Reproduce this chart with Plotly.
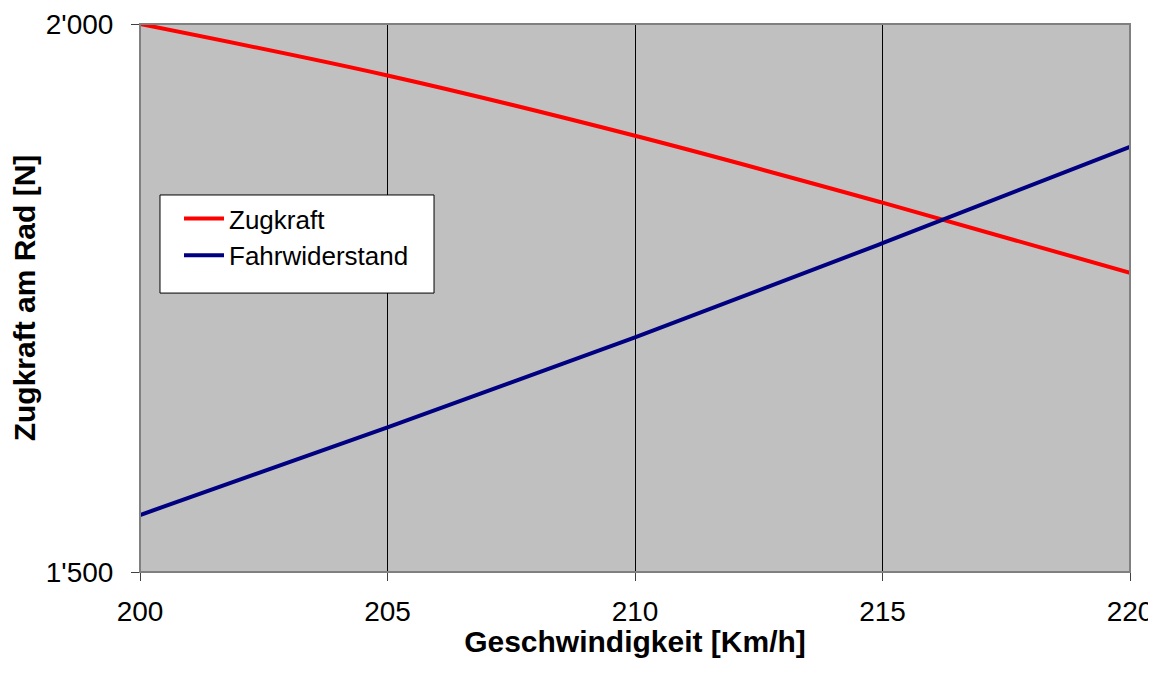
import plotly.graph_objects as go

speed = [200, 205, 210, 215, 220]
zugkraft = [2000, 1953, 1898, 1837, 1773]
fahrwiderstand = [1552, 1632, 1714, 1800, 1888]

y_tickvals = [1500, 2000]
y_ticktext = ["1'500", "2'000"]
x_tickvals = [200, 205, 210, 215, 220]

fig = go.Figure()
fig.add_trace(go.Scatter(x=speed, y=zugkraft, mode="lines", name="Zugkraft",
                         legendgroup="a",
                         line=dict(color="#FF0000", width=4, shape="spline")))
fig.add_trace(go.Scatter(x=speed, y=fahrwiderstand, mode="lines", name="Fahrwiderstand",
                         legendgroup="b",
                         line=dict(color="#000080", width=4, shape="spline")))

fig.update_layout(
    width=1148, height=650,
    margin=dict(l=132, r=26, t=16, b=86, autoexpand=False),
    paper_bgcolor="white",
    plot_bgcolor="#C0C0C0",
    font=dict(family="Liberation Sans, Arial", size=28, color="black"),
    showlegend=True,
    legend=dict(x=0.0394, y=0.688, xanchor="left", yanchor="top",
                bgcolor="rgba(0,0,0,0)", borderwidth=0,
                font=dict(size=26), itemwidth=40, tracegroupgap=23,
                traceorder="normal"),
    xaxis=dict(range=[200, 220], tickvals=x_tickvals, showgrid=True,
               gridcolor="black", gridwidth=1, zeroline=False, automargin=False,
               ticks="outside", ticklen=8, tickcolor="#404040",
               showline=True, linecolor="#404040", linewidth=1, mirror=False,
               tickfont=dict(size=28), ticklabelstandoff=6,
               title=dict(text="<b>Geschwindigkeit [Km/h]</b>", font=dict(size=30), standoff=8)),
    yaxis=dict(range=[1500, 2000], tickvals=y_tickvals, ticktext=y_ticktext,
               showgrid=False, zeroline=False, automargin=False,
               ticks="outside", ticklen=8, tickcolor="#404040",
               showline=True, linecolor="#404040", linewidth=1,
               tickfont=dict(size=28), ticklabelstandoff=12,
               title=dict(text="<b>Zugkraft am Rad [N]</b>", font=dict(size=30), standoff=7)),
    shapes=[
        dict(type="rect", xref="paper", yref="paper", x0=0, y0=0, x1=1, y1=1,
             line=dict(color="#808080", width=2), layer="above"),
        dict(type="rect", xref="paper", yref="paper", x0=0.0202, y0=0.509, x1=0.297, y1=0.688,
             line=dict(color="black", width=1), fillcolor="white", layer="above"),
    ],
)

fig.write_html("out.html")
